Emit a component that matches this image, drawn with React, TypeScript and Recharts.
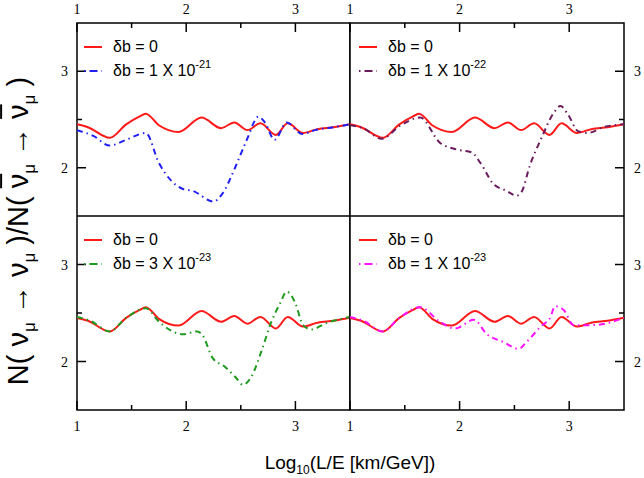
import React from 'react'
import { LineChart, Line, XAxis, YAxis, ReferenceArea } from 'recharts'

// x positions are Log10(L/E), y is the event ratio
const xTicks = [1, 1.5, 2, 2.5, 3]
const yTicks = [2, 2.5, 3]

// standard case, δb = 0 (same curve in all four panels)
const stdX = [1.0, 1.1, 1.3, 1.45, 1.57, 1.63, 1.75, 1.93, 2.14, 2.32, 2.44, 2.56, 2.68, 2.82, 2.93, 3.07, 3.2, 3.35, 3.5]
const stdY = [2.45, 2.42, 2.31, 2.45, 2.53, 2.56, 2.44, 2.37, 2.52, 2.41, 2.47, 2.39, 2.46, 2.34, 2.46, 2.36, 2.4, 2.42, 2.45]

// δb = 1 X 10^-21
const b21X = [1.0, 1.15, 1.3, 1.45, 1.63, 1.75, 1.97, 2.06, 2.25, 2.33, 2.44, 2.51, 2.57, 2.62, 2.66, 2.72, 2.81, 2.92, 3.06, 3.18, 3.35, 3.5]
const b21Y = [2.39, 2.33, 2.23, 2.29, 2.36, 2.05, 1.78, 1.76, 1.65, 1.73, 1.98, 2.17, 2.33, 2.47, 2.53, 2.47, 2.29, 2.47, 2.35, 2.39, 2.42, 2.45]

// δb = 1 X 10^-22
const b22X = [1.0, 1.12, 1.29, 1.45, 1.64, 1.82, 1.97, 2.11, 2.19, 2.31, 2.43, 2.52, 2.57, 2.64, 2.74, 2.86, 2.92, 2.99, 3.08, 3.17, 3.31, 3.5]
const b22Y = [2.44, 2.41, 2.3, 2.43, 2.52, 2.26, 2.19, 2.16, 2.05, 1.83, 1.76, 1.71, 1.76, 2.02, 2.29, 2.57, 2.64, 2.55, 2.38, 2.36, 2.42, 2.45]

// δb = 3 X 10^-23
const b323X = [1.0, 1.12, 1.3, 1.45, 1.63, 1.75, 1.97, 2.1, 2.15, 2.24, 2.36, 2.45, 2.52, 2.6, 2.69, 2.78, 2.86, 2.92, 3.0, 3.07, 3.15, 3.27, 3.5]
const b323Y = [2.46, 2.42, 2.31, 2.45, 2.55, 2.41, 2.28, 2.31, 2.27, 2.04, 1.94, 1.84, 1.76, 1.85, 2.11, 2.41, 2.6, 2.72, 2.6, 2.375, 2.33, 2.39, 2.46]

// δb = 1 X 10^-23
const b23X = [1.0, 1.12, 1.3, 1.45, 1.64, 1.82, 1.96, 2.13, 2.25, 2.4, 2.54, 2.61, 2.74, 2.83, 2.87, 2.95, 3.04, 3.22, 3.5]
const b23Y = [2.46, 2.42, 2.31, 2.45, 2.56, 2.41, 2.34, 2.43, 2.28, 2.2, 2.13, 2.2, 2.36, 2.46, 2.57, 2.53, 2.375, 2.375, 2.45]

const toPoints = (xs: number[], ys: number[]) => xs.map((x, i) => ({ x, y: ys[i] }))

const sans = '"Liberation Sans", Arial, sans-serif'
const serif = '"Liberation Serif", "Times New Roman", serif'
const dash = '6 4 1.5 4'

const panels = [
    { key: 'tl', left: 0, top: 0, xs: b21X, ys: b21Y, color: '#1f1ff5', coef: '1', exp: '-21', side: 'left', edge: 'top' },
    { key: 'tr', left: 340, top: 0, xs: b22X, ys: b22Y, color: '#6b1b5b', coef: '1', exp: '-22', side: 'right', edge: 'top' },
    { key: 'bl', left: 0, top: 216, xs: b323X, ys: b323Y, color: '#1f9a1f', coef: '3', exp: '-23', side: 'left', edge: 'bottom' },
    { key: 'br', left: 340, top: 216, xs: b23X, ys: b23Y, color: '#ff10ff', coef: '1', exp: '-23', side: 'right', edge: 'bottom' }
]

const makeXTick = (edge: string) => (props: any) => {
    const { x, y, payload } = props
    const v = payload.value
    const major = Number.isInteger(v)
    const len = major ? 9 : 5
    const dir = edge === 'top' ? 1 : -1
    return (
        <g>
            <line x1={x} y1={y} x2={x} y2={y + dir * len} stroke="#000" strokeWidth={1.5} />
            {major && (
                <text x={x} y={edge === 'top' ? y - 9 : y + 21} textAnchor="middle" fontFamily={serif} fontSize={14} fill="#000">
                    {v}
                </text>
            )}
        </g>
    )
}

const makeYTick = (side: string) => (props: any) => {
    const { x, y, payload } = props
    const v = payload.value
    const major = Number.isInteger(v)
    const len = major ? 9 : 5
    const dir = side === 'left' ? 1 : -1
    return (
        <g>
            <line x1={x} y1={y} x2={x + dir * len} y2={y} stroke="#000" strokeWidth={1.5} />
            {major && (
                <text
                    x={side === 'left' ? x - 9 : x + 10}
                    y={y + 5}
                    textAnchor={side === 'left' ? 'end' : 'start'}
                    fontFamily={serif}
                    fontSize={14}
                    fill="#000"
                >
                    {v}
                </text>
            )}
        </g>
    )
}

function Sample({ color, dashed }: { color: string; dashed?: boolean }) {
    return (
        <svg width={20} height={6} style={{ marginRight: 10 }}>
            <line x1={1} y1={3} x2={19} y2={3} stroke={color} strokeWidth={2} strokeDasharray={dashed ? '1.5 4 8 4' : undefined} />
        </svg>
    )
}

function Panel({ p }: { p: (typeof panels)[number] }) {
    const isLeft = p.side === 'left'
    const isTop = p.edge === 'top'
    const width = isLeft ? 350 : 304
    const height = isTop ? 216 : 262
    // axes take 1px each, so margins are 1px smaller than the frame offsets
    const margin = {
        top: isTop ? 22 : 0,
        bottom: isTop ? 0 : 67,
        left: isLeft ? 76 : 10,
        right: isLeft ? 0 : 19
    }
    const legendLeft = isLeft ? 83 : 18
    const legendTop = isTop ? 35 : 12
    return (
        <div style={{ position: 'absolute', left: p.left, top: p.top, width, height }}>
            <LineChart width={width} height={height} margin={margin}>
                <XAxis
                    type="number"
                    dataKey="x"
                    domain={[1, 3.5]}
                    ticks={xTicks}
                    interval={0}
                    orientation={isTop ? 'top' : 'bottom'}
                    height={1}
                    axisLine={false}
                    tickLine={false}
                    tickSize={0}
                    tickMargin={0}
                    tick={makeXTick(p.edge)}
                    allowDataOverflow
                />
                <YAxis
                    type="number"
                    domain={[1.5, 3.5]}
                    ticks={yTicks}
                    interval={0}
                    orientation={isLeft ? 'left' : 'right'}
                    width={1}
                    axisLine={false}
                    tickLine={false}
                    tickSize={0}
                    tickMargin={0}
                    tick={makeYTick(p.side)}
                    allowDataOverflow
                />
                <Line
                    data={toPoints(stdX, stdY)}
                    dataKey="y"
                    type="monotone"
                    stroke="#ff1a1a"
                    strokeWidth={2}
                    dot={false}
                    isAnimationActive={false}
                />
                <Line
                    data={toPoints(p.xs, p.ys)}
                    dataKey="y"
                    type="monotone"
                    stroke={p.color}
                    strokeWidth={2}
                    strokeDasharray={dash}
                    dot={false}
                    isAnimationActive={false}
                />
                <ReferenceArea x1={1} x2={3.5} y1={1.5} y2={3.5} fill="none" stroke="#000" strokeWidth={1.5} />
            </LineChart>
            <div style={{ position: 'absolute', left: legendLeft, top: legendTop, fontFamily: sans, fontSize: 16, color: '#000' }}>
                <div style={{ display: 'flex', alignItems: 'center', height: 24 }}>
                    <Sample color="#ff1a1a" />
                    <span>δb = 0</span>
                </div>
                <div style={{ display: 'flex', alignItems: 'center', height: 24 }}>
                    <Sample color={p.color} dashed />
                    <span>
                        δb = {p.coef} X 10
                        <span style={{ fontSize: 11, position: 'relative', top: -8 }}>{p.exp}</span>
                    </span>
                </div>
            </div>
        </div>
    )
}

export default function App() {
    return (
        <div style={{ position: 'absolute', left: 0, top: 0, width: 644, height: 478, background: '#fff', overflow: 'hidden' }}>
            {panels.map(p => (
                <Panel key={p.key} p={p} />
            ))}
            <div
                style={{
                    position: 'absolute',
                    left: 250,
                    width: 200,
                    top: 452,
                    textAlign: 'center',
                    fontFamily: sans,
                    fontSize: 19,
                    whiteSpace: 'nowrap'
                }}
            >
                Log<sub style={{ fontSize: 12 }}>10</sub>(L/E [km/GeV])
            </div>
            <div
                style={{
                    position: 'absolute',
                    left: 21,
                    top: 231,
                    transform: 'translate(-50%, -50%) rotate(-90deg)',
                    fontFamily: sans,
                    fontSize: 29,
                    whiteSpace: 'nowrap',
                    lineHeight: 1
                }}
            >
                N( ν<sub style={{ fontSize: 17 }}>μ</sub> → ν<sub style={{ fontSize: 17 }}>μ</sub> )/N( <span style={{ textDecoration: 'overline' }}>ν</span>
                <sub style={{ fontSize: 17 }}>μ</sub> → <span style={{ textDecoration: 'overline' }}>ν</span>
                <sub style={{ fontSize: 17 }}>μ</sub> )
            </div>
        </div>
    )
}
